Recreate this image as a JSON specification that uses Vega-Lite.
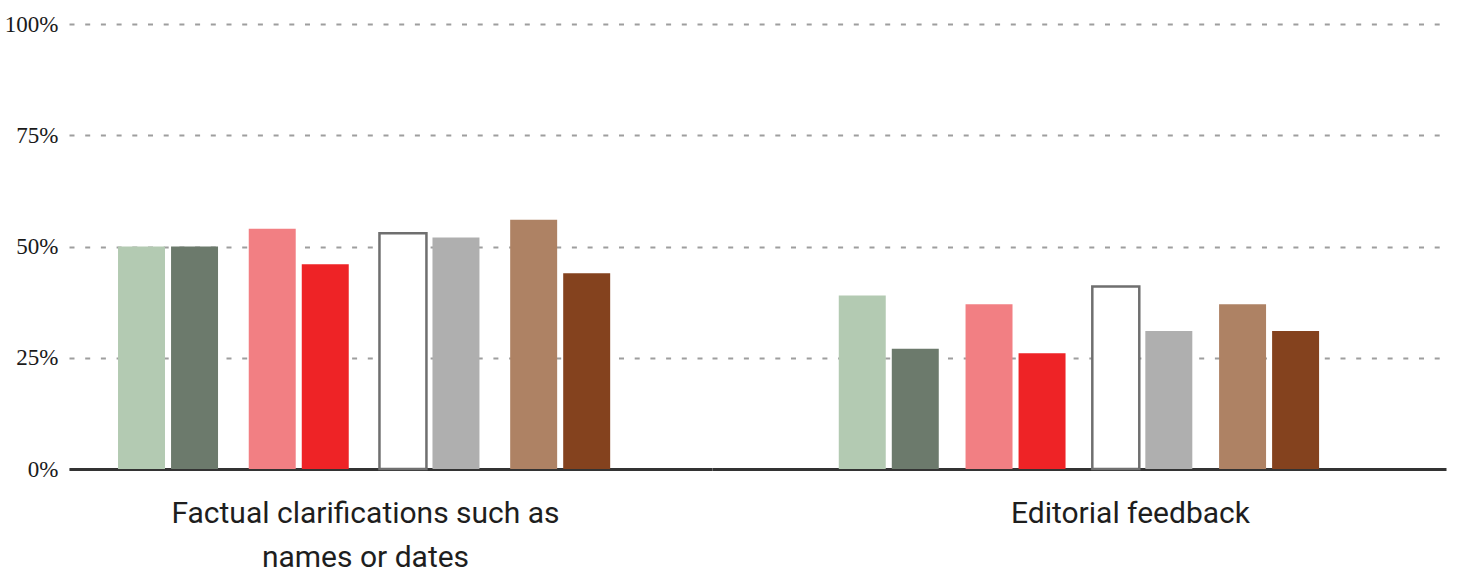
{
  "$schema": "https://vega.github.io/schema/vega-lite/v6.json",
  "background": "white",
  "padding": {"left": 4, "top": 13, "right": 12, "bottom": 0},
  "spacing": 0,
  "bounds": "flush",
  "config": {
    "view": {"stroke": null},
    "axisY": {
      "ticks": false,
      "tickSize": 0,
      "domain": false,
      "labelFont": "Liberation Serif",
      "labelFontSize": 23,
      "labelColor": "#1a1a1a",
      "labelPadding": 11,
      "grid": true,
      "gridColor": "#9e9e9e",
      "gridWidth": 2,
      "gridDash": [5, 10.7],
      "title": null,
      "zindex": 0
    },
    "axisX": {
      "labels": false,
      "ticks": false,
      "grid": false,
      "domain": true,
      "domainColor": "#333333",
      "domainWidth": 3,
      "titleFont": "Roboto",
      "titleFontSize": 30,
      "titleFontWeight": "normal",
      "titleColor": "#1e1e1e",
      "titleLineHeight": 44,
      "titlePadding": 29,
      "zindex": 1
    }
  },
  "data": {
    "values": [
      {"topic": "Factual clarifications such as names or dates", "pair": "P1", "bar": "a", "series": "P1a", "value": 0.50},
      {"topic": "Factual clarifications such as names or dates", "pair": "P1", "bar": "b", "series": "P1b", "value": 0.50},
      {"topic": "Factual clarifications such as names or dates", "pair": "P2", "bar": "a", "series": "P2a", "value": 0.54},
      {"topic": "Factual clarifications such as names or dates", "pair": "P2", "bar": "b", "series": "P2b", "value": 0.46},
      {"topic": "Factual clarifications such as names or dates", "pair": "P3", "bar": "a", "series": "P3a", "value": 0.53},
      {"topic": "Factual clarifications such as names or dates", "pair": "P3", "bar": "b", "series": "P3b", "value": 0.52},
      {"topic": "Factual clarifications such as names or dates", "pair": "P4", "bar": "a", "series": "P4a", "value": 0.56},
      {"topic": "Factual clarifications such as names or dates", "pair": "P4", "bar": "b", "series": "P4b", "value": 0.44},
      {"topic": "Editorial feedback", "pair": "P1", "bar": "a", "series": "P1a", "value": 0.39},
      {"topic": "Editorial feedback", "pair": "P1", "bar": "b", "series": "P1b", "value": 0.27},
      {"topic": "Editorial feedback", "pair": "P2", "bar": "a", "series": "P2a", "value": 0.37},
      {"topic": "Editorial feedback", "pair": "P2", "bar": "b", "series": "P2b", "value": 0.26},
      {"topic": "Editorial feedback", "pair": "P3", "bar": "a", "series": "P3a", "value": 0.41},
      {"topic": "Editorial feedback", "pair": "P3", "bar": "b", "series": "P3b", "value": 0.31},
      {"topic": "Editorial feedback", "pair": "P4", "bar": "a", "series": "P4a", "value": 0.37},
      {"topic": "Editorial feedback", "pair": "P4", "bar": "b", "series": "P4b", "value": 0.31}
    ]
  },
  "hconcat": [
    {
      "width": 643,
      "height": 445,
      "transform": [{"filter": "datum.topic === 'Factual clarifications such as names or dates'"}],
      "mark": {"type": "bar", "stroke": "#6f6f6f"},
      "encoding": {
        "x": {
          "field": "pair",
          "type": "nominal",
          "scale": {"paddingInner": 0.235, "paddingOuter": 0.577, "align": 0.325},
          "axis": {"title": ["Factual clarifications such as", "names or dates"], "titleX": 296}
        },
        "xOffset": {
          "field": "bar",
          "type": "nominal",
          "scale": {"paddingInner": 0.114, "paddingOuter": 0}
        },
        "y": {
          "field": "value",
          "type": "quantitative",
          "scale": {"domain": [0, 1]},
          "axis": {"values": [0, 0.25, 0.5, 0.75, 1], "format": ".0%"}
        },
        "color": {
          "field": "series",
          "type": "nominal",
          "legend": null,
          "scale": {
            "domain": ["P1a", "P1b", "P2a", "P2b", "P3a", "P3b", "P4a", "P4b"],
            "range": ["#b3cab2", "#6c7a6c", "#f27f83", "#ee2326", "#ffffff", "#afafaf", "#ae8264", "#84421e"]
          }
        },
        "strokeWidth": {
          "condition": {"test": "datum.series === 'P3a'", "value": 2.5},
          "value": 0
        }
      }
    },
    {
      "width": 734,
      "height": 445,
      "transform": [{"filter": "datum.topic === 'Editorial feedback'"}],
      "mark": {"type": "bar", "stroke": "#6f6f6f"},
      "encoding": {
        "x": {
          "field": "pair",
          "type": "nominal",
          "scale": {"paddingInner": 0.21, "paddingOuter": 1, "align": 0.5},
          "axis": {"title": "Editorial feedback", "titleX": 418}
        },
        "xOffset": {
          "field": "bar",
          "type": "nominal",
          "scale": {"paddingInner": 0.114, "paddingOuter": 0}
        },
        "y": {
          "field": "value",
          "type": "quantitative",
          "scale": {"domain": [0, 1]},
          "axis": {"values": [0, 0.25, 0.5, 0.75, 1], "labels": false}
        },
        "color": {
          "field": "series",
          "type": "nominal",
          "legend": null,
          "scale": {
            "domain": ["P1a", "P1b", "P2a", "P2b", "P3a", "P3b", "P4a", "P4b"],
            "range": ["#b3cab2", "#6c7a6c", "#f27f83", "#ee2326", "#ffffff", "#afafaf", "#ae8264", "#84421e"]
          }
        },
        "strokeWidth": {
          "condition": {"test": "datum.series === 'P3a'", "value": 2.5},
          "value": 0
        }
      }
    }
  ]
}
